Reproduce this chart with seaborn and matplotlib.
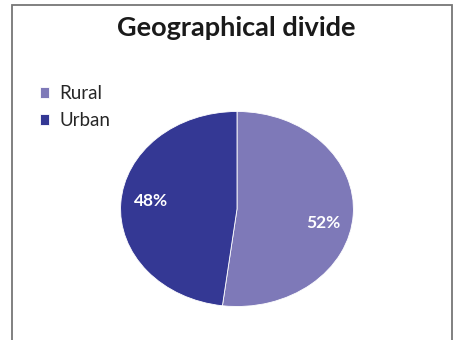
import matplotlib
matplotlib.use("Agg")
import matplotlib.pyplot as plt
import matplotlib.patches as mpatches
import seaborn as sns

# data
categories = ["Rural", "Urban"]
shares = [52, 48]
colors = ["#7E79B8", "#343894"]

sns.set_theme(style="white")
plt.rcParams["font.family"] = ["Lato", "DejaVu Sans"]

fig = plt.figure(figsize=(4.6, 3.4), dpi=100)
ax = fig.add_axes([120 / 460, 1 - 307 / 340, 234 / 460, 196 / 340])

wedges, texts, autotexts = ax.pie(
    shares, colors=sns.color_palette(colors), startangle=90, counterclock=False,
    autopct="%d%%", pctdistance=0.74,
    wedgeprops=dict(linewidth=0.6, edgecolor="white"),
    textprops=dict(color="white", fontsize=12.5, fontweight="bold"),
)
ax.set_aspect("auto")
ax.set_xlim(-1.005, 1.005)
ax.set_ylim(-1.005, 1.005)

# nudge the percentage labels to where the original puts them
autotexts[0].set_position((0.744, -0.148))
autotexts[1].set_position((-0.735, 0.077))

fig.text(0.513, 1 - 28 / 340, "Geographical divide", ha="center", va="center",
         fontsize=19.5, fontweight="bold", color="#1a1a1a")

fig.legend(wedges, categories, loc="upper left", bbox_to_anchor=(40 / 460, 1 - 85 / 340),
           frameon=False, fontsize=13.5, handlelength=0.5, handleheight=0.5,
           handletextpad=0.55, labelspacing=0.55, borderaxespad=0, borderpad=0)

# chart frame (open at the bottom)
frame = mpatches.Rectangle((12 / 460, -0.1), 440 / 460, 1.1 - 5 / 340, transform=fig.transFigure,
                           fill=False, edgecolor="#767676", linewidth=1.3)
fig.add_artist(frame)

fig.savefig("out.png", dpi=100)
